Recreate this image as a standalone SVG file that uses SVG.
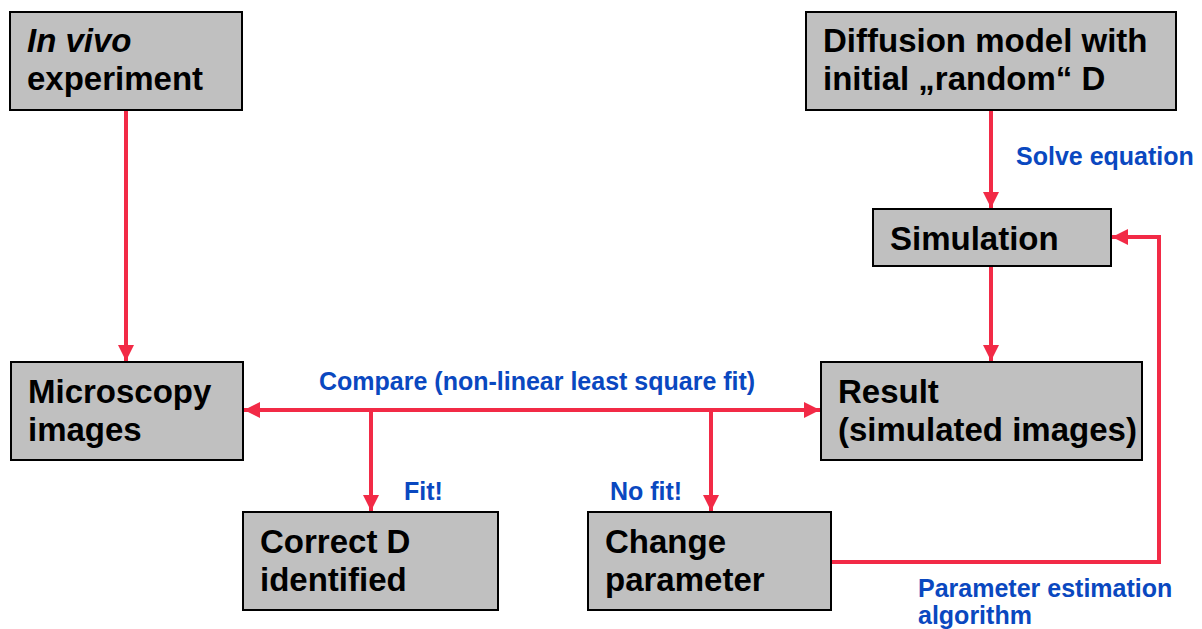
<svg xmlns="http://www.w3.org/2000/svg" width="1202" height="629" viewBox="0 0 1202 629">
  <style>
    .box { fill: #c0c0c0; stroke: #000; stroke-width: 2; }
    .t { font-family: "Liberation Sans", Arial, sans-serif; font-weight: bold; font-size: 33px; fill: #000; }
    .lbl { font-family: "Liberation Sans", Arial, sans-serif; font-weight: bold; font-size: 25px; fill: #0a48c0; }
    .wire { fill: none; stroke: #f22a46; stroke-width: 4; }
  </style>
  <defs>
    <marker id="arr" viewBox="0 0 10 10" refX="10" refY="5" markerWidth="4" markerHeight="4" markerUnits="strokeWidth" orient="auto-start-reverse">
      <path d="M0,0 L10,5 L0,10 z" fill="#f22a46"/>
    </marker>
  </defs>

  <g id="connectors">
    <line class="wire" x1="126" y1="110" x2="126" y2="361" marker-end="url(#arr)"/>
    <line class="wire" x1="991" y1="110" x2="991" y2="208" marker-end="url(#arr)"/>
    <line class="wire" x1="991" y1="266" x2="991" y2="361" marker-end="url(#arr)"/>
    <line class="wire" x1="244" y1="410" x2="820" y2="410" marker-start="url(#arr)" marker-end="url(#arr)"/>
    <line class="wire" x1="371" y1="410" x2="371" y2="511" marker-end="url(#arr)"/>
    <line class="wire" x1="711" y1="410" x2="711" y2="511" marker-end="url(#arr)"/>
    <polyline class="wire" points="831,562 1159,562 1159,237 1112,237" marker-end="url(#arr)"/>
  </g>

  <g id="invivo">
    <rect class="box" x="10" y="12" width="232" height="98"/>
    <text class="t" x="27" y="52"><tspan font-style="italic">In vivo</tspan></text>
    <text class="t" x="27" y="90">experiment</text>
  </g>

  <g id="diffusion">
    <rect class="box" x="806" y="12" width="370" height="98"/>
    <text class="t" x="823" y="52">Diffusion model with</text>
    <text class="t" x="823" y="90">initial „random“ D</text>
  </g>

  <g id="simulation">
    <rect class="box" x="873" y="209" width="238" height="57"/>
    <text class="t" x="890" y="250">Simulation</text>
  </g>

  <g id="microscopy">
    <rect class="box" x="11" y="362" width="232" height="98"/>
    <text class="t" x="28" y="403">Microscopy</text>
    <text class="t" x="28" y="441">images</text>
  </g>

  <g id="result">
    <rect class="box" x="821" y="362" width="321" height="98"/>
    <text class="t" x="838" y="403">Result</text>
    <text class="t" x="838" y="441">(simulated images)</text>
  </g>

  <g id="correct">
    <rect class="box" x="243" y="512" width="255" height="98"/>
    <text class="t" x="260" y="553">Correct D</text>
    <text class="t" x="260" y="591">identified</text>
  </g>

  <g id="change">
    <rect class="box" x="588" y="512" width="243" height="98"/>
    <text class="t" x="605" y="553">Change</text>
    <text class="t" x="605" y="591">parameter</text>
  </g>

  <g id="labels">
    <text class="lbl" x="1016" y="165">Solve equation</text>
    <text class="lbl" x="319" y="390">Compare (non-linear least square fit)</text>
    <text class="lbl" x="404" y="500">Fit!</text>
    <text class="lbl" x="610" y="500">No fit!</text>
    <text class="lbl" x="918" y="597">Parameter estimation</text>
    <text class="lbl" x="918" y="624">algorithm</text>
  </g>
</svg>
